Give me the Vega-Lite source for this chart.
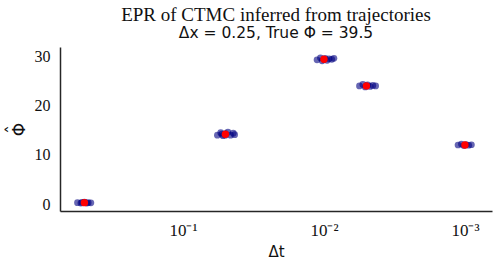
{
  "$schema": "https://vega.github.io/schema/vega-lite/v6.json",
  "width": 432,
  "height": 164,
  "autosize": {"type": "none"},
  "padding": {"left": 60, "top": 47, "right": 7, "bottom": 59},
  "background": "white",
  "config": {"view": {"stroke": null}},
  "title": {
    "text": "EPR of CTMC inferred from trajectories",
    "subtitle": "\u0394x = 0.25, True \u03a6 = 39.5",
    "font": "Liberation Serif",
    "fontSize": 19,
    "fontWeight": "normal",
    "color": "#111",
    "subtitleFont": "DejaVu Sans",
    "subtitleFontSize": 15.5,
    "subtitleColor": "#111",
    "subtitlePadding": 1,
    "anchor": "middle",
    "offset": 6
  },
  "data": {
    "values": [
      {"dt": 0.56, "phi": 0.3, "kind": "sample"},
      {"dt": 0.53, "phi": 0.2, "kind": "sample"},
      {"dt": 0.5, "phi": 0.4, "kind": "sample"},
      {"dt": 0.47, "phi": 0.3, "kind": "sample"},
      {"dt": 0.45, "phi": 0.25, "kind": "sample"},
      {"dt": 0.52, "phi": 0.35, "kind": "sample"},
      {"dt": 0.48, "phi": 0.2, "kind": "sample"},
      {"dt": 0.5, "phi": 0.3, "kind": "sample"},
      {"dt": 0.057, "phi": 14.0, "kind": "sample"},
      {"dt": 0.054, "phi": 14.5, "kind": "sample"},
      {"dt": 0.052, "phi": 13.9, "kind": "sample"},
      {"dt": 0.05, "phi": 14.3, "kind": "sample"},
      {"dt": 0.048, "phi": 14.6, "kind": "sample"},
      {"dt": 0.046, "phi": 14.0, "kind": "sample"},
      {"dt": 0.044, "phi": 14.4, "kind": "sample"},
      {"dt": 0.043, "phi": 14.1, "kind": "sample"},
      {"dt": 0.053, "phi": 14.2, "kind": "sample"},
      {"dt": 0.05, "phi": 14.0, "kind": "sample"},
      {"dt": 0.0112, "phi": 29.3, "kind": "sample"},
      {"dt": 0.0106, "phi": 29.7, "kind": "sample"},
      {"dt": 0.0103, "phi": 29.1, "kind": "sample"},
      {"dt": 0.0098, "phi": 29.6, "kind": "sample"},
      {"dt": 0.0095, "phi": 29.2, "kind": "sample"},
      {"dt": 0.0092, "phi": 29.5, "kind": "sample"},
      {"dt": 0.0088, "phi": 29.4, "kind": "sample"},
      {"dt": 0.0085, "phi": 29.6, "kind": "sample"},
      {"dt": 0.01, "phi": 29.4, "kind": "sample"},
      {"dt": 0.0056, "phi": 24.0, "kind": "sample"},
      {"dt": 0.0053, "phi": 24.3, "kind": "sample"},
      {"dt": 0.0051, "phi": 23.8, "kind": "sample"},
      {"dt": 0.0049, "phi": 24.2, "kind": "sample"},
      {"dt": 0.0047, "phi": 23.9, "kind": "sample"},
      {"dt": 0.0045, "phi": 24.1, "kind": "sample"},
      {"dt": 0.0043, "phi": 24.0, "kind": "sample"},
      {"dt": 0.005, "phi": 24.0, "kind": "sample"},
      {"dt": 0.00112, "phi": 12.0, "kind": "sample"},
      {"dt": 0.00106, "phi": 12.2, "kind": "sample"},
      {"dt": 0.00102, "phi": 11.9, "kind": "sample"},
      {"dt": 0.00098, "phi": 12.1, "kind": "sample"},
      {"dt": 0.00094, "phi": 11.95, "kind": "sample"},
      {"dt": 0.0009, "phi": 12.05, "kind": "sample"},
      {"dt": 0.001, "phi": 12.0, "kind": "sample"},
      {"dt": 0.5, "phi": 0.3, "kind": "mean"},
      {"dt": 0.05, "phi": 14.2, "kind": "mean"},
      {"dt": 0.01, "phi": 29.4, "kind": "mean"},
      {"dt": 0.005, "phi": 24.0, "kind": "mean"},
      {"dt": 0.001, "phi": 12.0, "kind": "mean"}
    ]
  },
  "encoding": {
    "x": {
      "field": "dt",
      "type": "quantitative",
      "scale": {"type": "log", "domain": [0.000643, 0.7451], "reverse": true, "nice": false, "zero": false},
      "axis": {
        "title": "\u0394t",
        "titleFont": "DejaVu Sans",
        "titleFontSize": 15,
        "titleFontWeight": "normal",
        "titleColor": "#111",
        "titlePadding": 6,
        "values": [0.1, 0.01, 0.001],
        "labelExpr": "datum.value > 0.05 ? '10\u207b\u00b9' : (datum.value > 0.005 ? '10\u207b\u00b2' : '10\u207b\u00b3')",
        "labelFont": "Liberation Serif",
        "labelFontSize": 17,
        "labelColor": "#111",
        "labelPadding": 11,
        "ticks": false,
        "grid": false,
        "domainColor": "#262626",
        "domainWidth": 1.5
      }
    },
    "y": {
      "field": "phi",
      "type": "quantitative",
      "scale": {"domain": [-1.4, 31.9], "nice": false, "zero": false},
      "axis": {
        "title": ["\u02c6", "\u03a6"],
        "titleFont": "DejaVu Sans",
        "titleFontSize": 17,
        "titleLineHeight": 6,
        "titleFontWeight": "normal",
        "titleColor": "#111",
        "titlePadding": 6,
        "values": [0, 10, 20, 30],
        "labelFont": "Liberation Serif",
        "labelFontSize": 16,
        "labelColor": "#111",
        "labelPadding": 10,
        "ticks": false,
        "grid": false,
        "domainColor": "#262626",
        "domainWidth": 1.5
      }
    }
  },
  "layer": [
    {
      "transform": [{"filter": "datum.kind === 'sample'"}],
      "mark": {"type": "circle", "size": 45, "color": "#000080", "opacity": 0.6}
    },
    {
      "transform": [{"filter": "datum.kind === 'mean'"}],
      "mark": {"type": "circle", "size": 55, "color": "red", "opacity": 1}
    }
  ]
}
